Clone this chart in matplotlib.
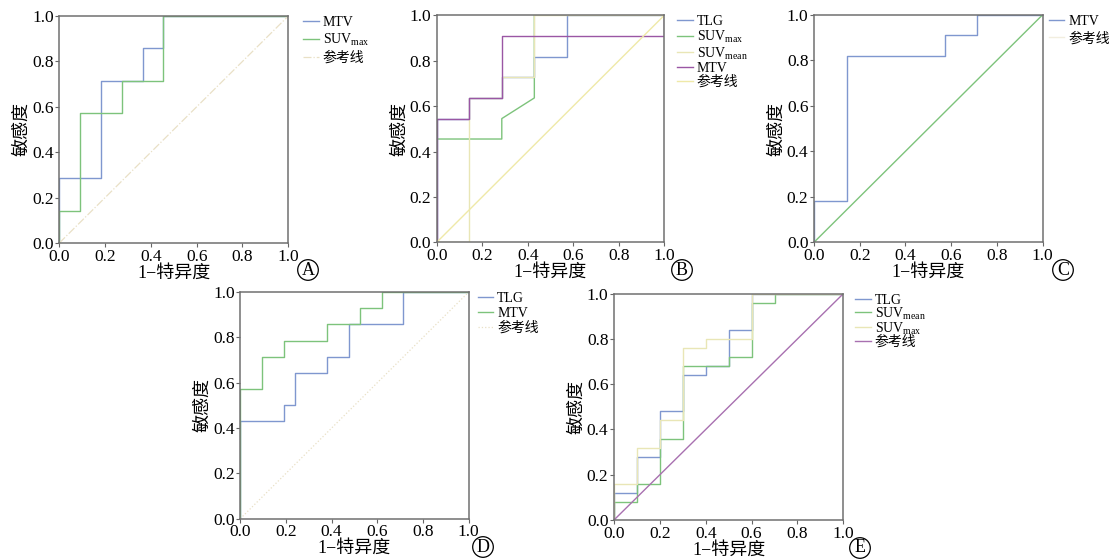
import matplotlib
matplotlib.use('Agg')
import matplotlib.pyplot as plt

plt.rcParams['font.family'] = ['Liberation Serif', 'Noto Sans CJK SC']
plt.rcParams['mathtext.fontset'] = 'custom'
plt.rcParams['mathtext.rm'] = 'Liberation Serif'
plt.rcParams['axes.unicode_minus'] = False

W, H = 1109, 559
BLUE = '#7f97cf'
GREEN = '#7dc37b'
PURPLE = '#9a56a4'
BEIGE = '#e9e6b6'
YELLOW = '#efe9a8'
FAINT = '#e9e0c6'

ticks = [0.0, 0.2, 0.4, 0.6, 0.8, 1.0]
tick_labels = ['0.0', '0.2', '0.4', '0.6', '0.8', '1.0']
ref_x = [0.0, 1.0]
ref_y = [0.0, 1.0]

# ---- Panel A ----
a_mtv_fpr = [0, 0, 0.182, 0.182, 0.364, 0.364, 0.455, 0.455, 1.0]
a_mtv_tpr = [0, 0.286, 0.286, 0.714, 0.714, 0.857, 0.857, 1.0, 1.0]
a_suvmax_fpr = [0, 0, 0.091, 0.091, 0.273, 0.273, 0.455, 0.455, 1.0]
a_suvmax_tpr = [0, 0.143, 0.143, 0.571, 0.571, 0.714, 0.714, 1.0, 1.0]

# ---- Panel B ----
b_tlg_fpr = [0, 0, 0.143, 0.143, 0.286, 0.286, 0.429, 0.429, 0.571, 0.571, 1.0]
b_tlg_tpr = [0, 0.545, 0.545, 0.636, 0.636, 0.727, 0.727, 0.818, 0.818, 1.0, 1.0]
b_suvmax_fpr = [0, 0, 0.286, 0.286, 0.429, 0.429, 1.0]
b_suvmax_tpr = [0, 0.455, 0.455, 0.545, 0.636, 1.0, 1.0]
b_suvmean_fpr = [0, 0.143, 0.143, 0.286, 0.286, 0.429, 0.429, 1.0]
b_suvmean_tpr = [0, 0, 0.636, 0.636, 0.727, 0.727, 1.0, 1.0]
b_mtv_fpr = [0, 0, 0.143, 0.143, 0.286, 0.286, 1.0, 1.0]
b_mtv_tpr = [0, 0.545, 0.545, 0.636, 0.636, 0.909, 0.909, 1.0]

# ---- Panel C ----
c_mtv_fpr = [0, 0, 0.143, 0.143, 0.571, 0.571, 0.714, 0.714, 1.0]
c_mtv_tpr = [0, 0.182, 0.182, 0.818, 0.818, 0.909, 0.909, 1.0, 1.0]

# ---- Panel D ----
d_tlg_fpr = [0, 0, 0.190, 0.190, 0.238, 0.238, 0.381, 0.381, 0.476, 0.476, 0.714, 0.714, 1.0]
d_tlg_tpr = [0, 0.429, 0.429, 0.500, 0.500, 0.643, 0.643, 0.714, 0.714, 0.857, 0.857, 1.0, 1.0]
d_mtv_fpr = [0, 0, 0.095, 0.095, 0.190, 0.190, 0.381, 0.381, 0.524, 0.524, 0.619, 0.619, 1.0]
d_mtv_tpr = [0, 0.571, 0.571, 0.714, 0.714, 0.786, 0.786, 0.857, 0.857, 0.929, 0.929, 1.0, 1.0]

# ---- Panel E ----
e_tlg_fpr = [0, 0, 0.1, 0.1, 0.2, 0.2, 0.3, 0.3, 0.4, 0.4, 0.5, 0.5, 0.6, 0.6, 1.0]
e_tlg_tpr = [0, 0.12, 0.12, 0.28, 0.28, 0.48, 0.48, 0.64, 0.64, 0.68, 0.68, 0.84, 0.84, 1.0, 1.0]
e_suvmean_fpr = [0, 0, 0.1, 0.1, 0.2, 0.2, 0.3, 0.3, 0.5, 0.5, 0.6, 0.6, 0.7, 0.7, 1.0]
e_suvmean_tpr = [0, 0.08, 0.08, 0.16, 0.16, 0.36, 0.36, 0.68, 0.68, 0.72, 0.72, 0.96, 0.96, 1.0, 1.0]
e_suvmax_fpr = [0, 0, 0.1, 0.1, 0.2, 0.2, 0.3, 0.3, 0.4, 0.4, 0.6, 0.6, 1.0]
e_suvmax_tpr = [0, 0.16, 0.16, 0.32, 0.32, 0.44, 0.44, 0.76, 0.76, 0.80, 0.80, 1.0, 1.0]

SUVMAX = 'SUV$_{\\mathregular{max}}$'
SUVMEAN = 'SUV$_{\\mathregular{mean}}$'

fig = plt.figure(figsize=(W / 100, H / 100), dpi=100)


def make_ax(left, top, right, bottom):
    ax = fig.add_axes([left / W, 1 - bottom / H, (right - left) / W, (bottom - top) / H])
    ax.set_xlim(0, 1)
    ax.set_ylim(0, 1)
    ax.set_xticks(ticks)
    ax.set_yticks(ticks)
    ax.set_xticklabels(tick_labels)
    ax.set_yticklabels(tick_labels)
    ax.tick_params(direction='out', length=3, width=0.8, color='#666666',
                   labelsize=12.5, pad=1)
    for s in ax.spines.values():
        s.set_color('#707070')
        s.set_linewidth(1.1)
    ax.set_xlabel('1−特异度', fontsize=13, labelpad=0)
    ax.set_ylabel('敏感度', fontsize=13, labelpad=1)
    return ax


def legend(ax, dx_px, spacing):
    w = ax.get_position().width * W
    ax.legend(loc='upper left', bbox_to_anchor=(1 + dx_px / w, 1.0), frameon=False,
              fontsize=10, borderaxespad=0, borderpad=0, handlelength=1.1,
              handletextpad=0.3, labelspacing=spacing)


def circ(x, y, letter):
    fig.text(x / W, 1 - y / H, letter, ha='center', va='center', fontsize=13,
             bbox=dict(boxstyle='circle,pad=0.1', fc='none', ec='black', lw=0.9))


# A
ax = make_ax(59.3, 16, 288.3, 243)
ax.plot(a_mtv_fpr, a_mtv_tpr, color=BLUE, lw=1.0, label='MTV')
ax.plot(a_suvmax_fpr, a_suvmax_tpr, color=GREEN, lw=1.0, label=SUVMAX)
ax.plot(ref_x, ref_y, color=FAINT, lw=0.9, ls='-.', label='参考线')
legend(ax, 15, 0.2)
circ(308, 270, 'A')

# B
ax = make_ax(436.7, 15.3, 664.3, 242.3)
ax.plot(b_tlg_fpr, b_tlg_tpr, color=BLUE, lw=1.0, label='TLG')
ax.plot(b_suvmax_fpr, b_suvmax_tpr, color=GREEN, lw=1.0, label=SUVMAX)
ax.plot(b_suvmean_fpr, b_suvmean_tpr, color=BEIGE, lw=1.0, label=SUVMEAN)
ax.plot(b_mtv_fpr, b_mtv_tpr, color=PURPLE, lw=1.0, label='MTV')
ax.plot(ref_x, ref_y, color=YELLOW, lw=1.0, label='参考线')
legend(ax, 13, 0.02)
circ(682, 270, 'B')

# C
ax = make_ax(814, 14.7, 1042.7, 242.3)
ax.plot(c_mtv_fpr, c_mtv_tpr, color=BLUE, lw=1.0, label='MTV')
ax.plot(ref_x, ref_y, color=GREEN, lw=1.0, label='_ref')
ax.plot([], [], color='#f2eedf', lw=1.0, label='参考线')
legend(ax, 6, 0.3)
circ(1063, 270, 'C')

# D
ax = make_ax(240.3, 292, 468.7, 518.7)
ax.plot(d_tlg_fpr, d_tlg_tpr, color=BLUE, lw=1.0, label='TLG')
ax.plot(d_mtv_fpr, d_mtv_tpr, color=GREEN, lw=1.0, label='MTV')
ax.plot(ref_x, ref_y, color=FAINT, lw=0.9, ls=':', label='参考线')
legend(ax, 9, 0.12)
circ(483, 547, 'D')

# E
ax = make_ax(614, 293.7, 843.3, 520)
ax.plot(e_tlg_fpr, e_tlg_tpr, color=BLUE, lw=1.0, label='TLG')
ax.plot(e_suvmean_fpr, e_suvmean_tpr, color=GREEN, lw=1.0, label=SUVMEAN)
ax.plot(e_suvmax_fpr, e_suvmax_tpr, color=BEIGE, lw=1.0, label=SUVMAX)
ax.plot(ref_x, ref_y, color='#a870b0', lw=1.0, label='参考线')
legend(ax, 12, -0.1)
circ(860, 548, 'E')

fig.savefig('out.png', dpi=100)
